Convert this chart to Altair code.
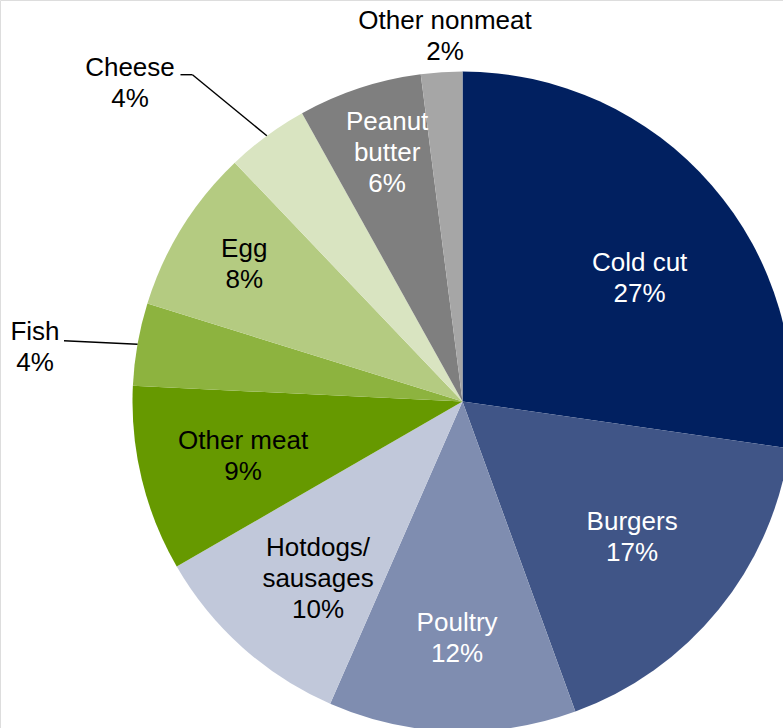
import altair as alt
import pandas as pd

# Sandwich filling shares, clockwise from 12 o'clock
categories = ["Cold cut", "Burgers", "Poultry", "Hotdogs/sausages", "Other meat",
              "Fish", "Egg", "Cheese", "Peanut butter", "Other nonmeat"]
shares = [27, 17, 12, 10, 9, 4, 8, 4, 6, 2]
label_names = ["Cold cut", "Burgers", "Poultry", "Hotdogs/\nsausages", "Other meat",
               "Fish", "Egg", "Cheese", "Peanut\nbutter", "Other nonmeat"]
slice_colors = ["#012060", "#405587", "#7f8db0", "#c1c8da", "#669900",
                "#8db33f", "#b4cb81", "#d9e4c1", "#7f7f7f", "#a6a6a6"]
dark_slices = {"Cold cut", "Burgers", "Poultry", "Peanut butter"}

# Label placement: radial distance (px) and angular nudge (deg) from slice middle
label_place = {
    "Cold cut": (216, 6.0), "Burgers": (217, -0.5), "Poultry": (236, -0.5),
    "Hotdogs/sausages": (228, -2.5), "Other meat": (226, -0.3), "Fish": (431, -2.7),
    "Egg": (258, 0.4), "Cheese": (461, -9.8), "Peanut butter": (261, 1.4),
    "Other nonmeat": (366, 0.9),
}
# Leader lines for outside labels: elbow and stub end offsets from label centre
leader_place = {
    "Fish": (29, -6, 29, -6),
    "Cheese": (62.5, -7.5, 50.5, -7.5),
}

CX, CY, R = 462.5, 401.5, 330
LINE_H = 31

df = pd.DataFrame({
    "idx": list(range(len(categories))),
    "category": categories,
    "share": shares,
})
df["label"] = [f"{n}\n{v}%" for n, v in zip(label_names, shares)]
df["nlines"] = [lbl.count("\n") + 1 for lbl in df["label"]]
df["tc"] = ["white" if c in dark_slices else "black" for c in categories]
df["lr"] = [label_place[c][0] for c in categories]
df["nudge"] = [label_place[c][1] for c in categories]
df["has_leader"] = [c in leader_place for c in categories]
df["edx"] = [leader_place.get(c, (0, 0, 0, 0))[0] for c in categories]
df["edy"] = [leader_place.get(c, (0, 0, 0, 0))[1] for c in categories]
df["sdx"] = [leader_place.get(c, (0, 0, 0, 0))[2] for c in categories]
df["sdy"] = [leader_place.get(c, (0, 0, 0, 0))[3] for c in categories]

base = (
    alt.Chart(df)
    .transform_joinaggregate(total="sum(share)")
    .transform_window(cum="sum(share)", sort=[alt.SortField("idx")], frame=[None, 0])
    .transform_calculate(mid="2*PI*(datum.cum - datum.share/2)/datum.total")
    .transform_calculate(ang="datum.mid + datum.nudge*PI/180")
    .transform_calculate(
        lx=f"{CX} + datum.lr*sin(datum.ang)",
        ly=f"{CY} - datum.lr*cos(datum.ang)",
    )
    # first text line sits above the block centre
    .transform_calculate(ty=f"datum.ly - (datum.nlines - 1)*{LINE_H}/2 + 1")
)

pie = alt.Chart(df).mark_arc(outerRadius=R, stroke=None).encode(
    x=alt.value(CX),
    y=alt.value(CY),
    theta=alt.Theta("share:Q", stack=True),
    order=alt.Order("idx:Q", sort="ascending"),
    color=alt.Color("category:N", scale=alt.Scale(domain=categories, range=slice_colors), legend=None),
)

labels = base.mark_text(
    font="Liberation Sans", fontSize=26, lineBreak="\n", lineHeight=LINE_H,
    align="center", baseline="middle",
).encode(
    x=alt.X("lx:Q", scale=None),
    y=alt.Y("ty:Q", scale=None),
    text="label:N",
    color=alt.Color("tc:N", scale=None),
)

leader_base = (
    base.transform_filter("datum.has_leader")
    .transform_calculate(
        ax=f"{CX} + {R}*sin(datum.mid)",
        ay=f"{CY} - {R}*cos(datum.mid)",
    )
    .transform_calculate(
        ex="datum.lx + datum.edx", ey="datum.ly + datum.edy",
        sx="datum.lx + datum.sdx", sy="datum.ly + datum.sdy",
    )
)

leader_diag = leader_base.mark_rule(color="black", strokeWidth=1.4).encode(
    x=alt.X("ax:Q", scale=None), y=alt.Y("ay:Q", scale=None),
    x2="ex:Q", y2="ey:Q",
)
leader_stub = leader_base.mark_rule(color="black", strokeWidth=1.4).encode(
    x=alt.X("ex:Q", scale=None), y=alt.Y("ey:Q", scale=None),
    x2="sx:Q", y2="sy:Q",
)

chart = (
    alt.layer(pie, leader_diag, leader_stub, labels)
    .properties(width=783, height=728, autosize=alt.AutoSizeParams(type="none"), padding=0)
    .configure_view(stroke=None)
    .configure(background="white")
)

chart.save("out.html", embed_options={"renderer": "svg", "actions": False})
